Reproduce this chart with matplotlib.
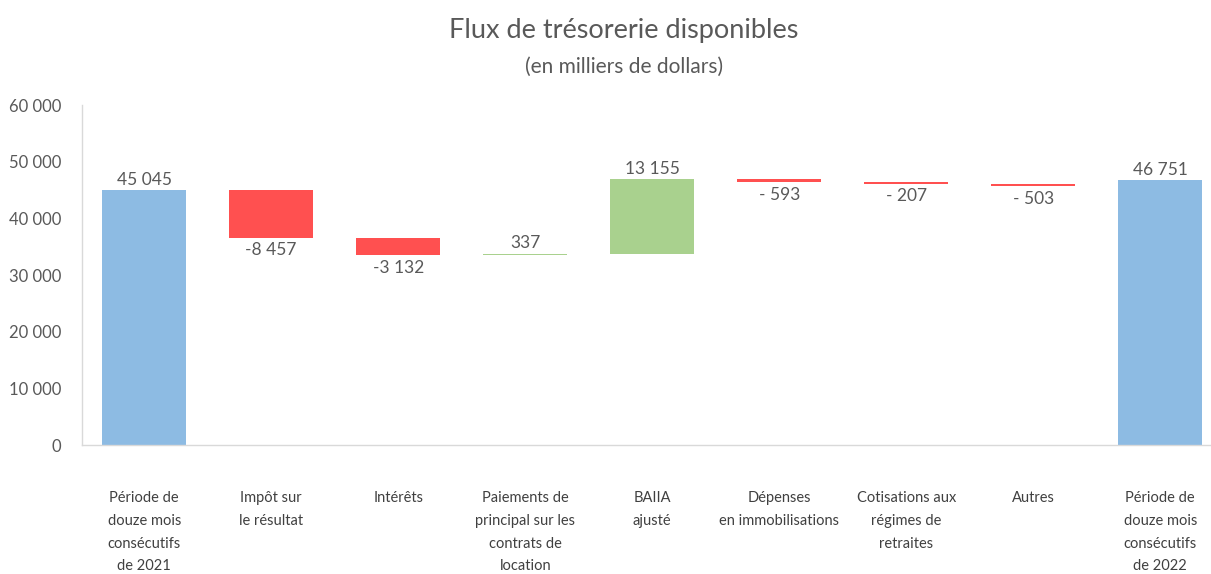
import matplotlib
matplotlib.use("Agg")
import matplotlib.pyplot as plt

categories = [
    "Période de\ndouze mois\nconsécutifs\nde 2021",
    "Impôt sur\nle résultat",
    "Intérêts",
    "Paiements de\nprincipal sur les\ncontrats de\nlocation",
    "BAIIA\najusté",
    "Dépenses\nen immobilisations",
    "Cotisations aux\nrégimes de\nretraites",
    "Autres",
    "Période de\ndouze mois\nconsécutifs\nde 2022",
]
values = [45045, -8457, -3132, 337, 13155, -593, -207, -503, 46751]
is_total = [True, False, False, False, False, False, False, False, True]
value_labels = ["45 045", "-8 457", "-3 132", "337", "13 155", "- 593", "- 207", "- 503", "46 751"]
y_ticks = [0, 10000, 20000, 30000, 40000, 50000, 60000]
y_tick_labels = ["0", "10 000", "20 000", "30 000", "40 000", "50 000", "60 000"]

BLUE = "#8dbbe3"
RED = "#ff5050"
GREEN = "#a9d18e"
TEXT = "#595959"

plt.rcParams["font.family"] = ["Lato", "DejaVu Sans"]

fig = plt.figure(figsize=(12.11, 5.74), dpi=100)
ax = fig.add_axes([0.0677, 0.2247, 0.9323, 0.5923])

running = 0
for i, (val, total, lab) in enumerate(zip(values, is_total, value_labels)):
    if total:
        bottom, height, color = 0, val, BLUE
        running = val
    else:
        if val >= 0:
            bottom, height, color = running, val, GREEN
        else:
            bottom, height, color = running + val, -val, RED
        running += val
    ax.bar(i, height, bottom=bottom, width=0.66, color=color, linewidth=0)
    if total or val >= 0:
        ax.text(i, bottom + height + 400, lab, ha="center", va="bottom",
                fontsize=12.5, color=TEXT)
    else:
        ax.text(i, bottom - 800, lab, ha="center", va="top",
                fontsize=12.5, color=TEXT)

ax.set_xlim(-0.49, 8.40)
ax.set_ylim(0, 60000)
ax.set_yticks(y_ticks)
ax.set_yticklabels(y_tick_labels, fontsize=12, color=TEXT)
ax.tick_params(axis="y", length=0, pad=15)
ax.set_xticks([])
for side in ["top", "right"]:
    ax.spines[side].set_visible(False)
for side in ["left", "bottom"]:
    ax.spines[side].set_color("#d9d9d9")
    ax.spines[side].set_linewidth(1)

for i, cat in enumerate(categories):
    ax.text(i, -8200, cat, ha="center", va="top", fontsize=10.5,
            color="#404040", linespacing=1.78)

fig.text(0.515, 0.947, "Flux de trésorerie disponibles", ha="center", va="center",
         fontsize=19.5, color=TEXT)
fig.text(0.515, 0.884, "(en milliers de dollars)", ha="center", va="center",
         fontsize=15, color=TEXT)

fig.savefig("out.png", dpi=100)
